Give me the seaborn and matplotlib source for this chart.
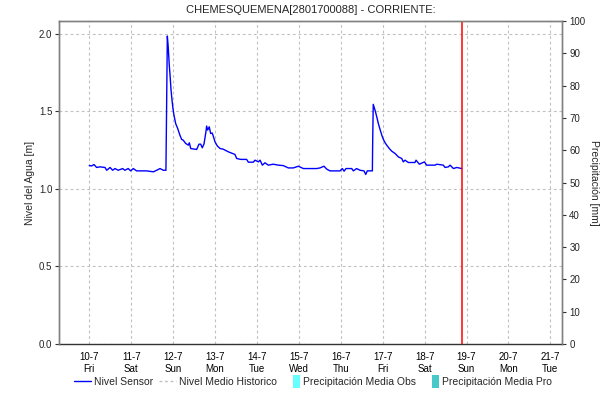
import matplotlib
matplotlib.use("Agg")
import matplotlib.pyplot as plt
import matplotlib.dates as mdates
from matplotlib.lines import Line2D
from matplotlib.patches import Patch, Rectangle
from matplotlib.legend_handler import HandlerPatch
import numpy as np
import pandas as pd
import seaborn as sns

# Nivel Sensor readings: hours after 10-7-2020 00:00 and level [m]
sensor_hours = [
    0, 1.4, 2.7, 4.2, 6.1, 9.0, 10.0, 11.9, 13.4, 14.7, 16.6, 19.1, 20.4, 22.3,
    23.7, 25.2, 27.1, 32.9, 36.7, 38.6, 40.5, 42.4, 43.9, 44.3, 44.7, 45.2,
    45.8, 46.4, 46.8, 47.4, 47.9, 48.5, 49.5, 50.6, 51.9, 52.9, 53.8, 55.2,
    56.7, 57.3, 58.1, 61.5, 62.8, 63.8, 64.7, 65.7, 66.8, 67.2, 67.8, 68.7,
    69.5, 70.4, 71.0, 72.0, 73.3, 74.9, 76.7, 79.6, 83.4, 84.4, 86.7, 90.1,
    91.1, 93.9, 94.9, 96.8, 97.8, 99.1, 100.6, 102.5, 105.4, 108.2, 111.1,
    114.0, 116.8, 119.7, 122.6, 126.4, 130.2, 132.1, 134.4, 136.0, 137.8,
    143.6, 144.9, 145.9, 147.0, 150.3, 151.2, 153.1, 155.0, 157.3, 158.3,
    159.2, 162.1, 162.3, 162.6, 163.6, 164.6, 165.5, 166.5, 167.5, 168.4,
    169.4, 170.3, 171.8, 173.2, 175.1, 177.0, 178.9, 179.8, 180.8, 182.7,
    186.5, 187.1, 189.0, 191.9, 193.2, 198.0, 199.0, 202.7, 203.7, 205.6,
    206.6, 208.5, 210.4, 213.3,
]
sensor_level = [
    1.150, 1.148, 1.157, 1.138, 1.142, 1.138, 1.120, 1.138, 1.120, 1.131,
    1.120, 1.131, 1.120, 1.131, 1.116, 1.131, 1.116, 1.116, 1.110, 1.120,
    1.131, 1.120, 1.120, 1.545, 1.985, 1.916, 1.800, 1.710, 1.640, 1.570,
    1.520, 1.475, 1.420, 1.390, 1.346, 1.319, 1.314, 1.293, 1.282, 1.297,
    1.260, 1.254, 1.288, 1.288, 1.265, 1.290, 1.368, 1.405, 1.379, 1.400,
    1.357, 1.360, 1.340, 1.303, 1.277, 1.260, 1.256, 1.239, 1.222, 1.196,
    1.190, 1.190, 1.172, 1.172, 1.185, 1.174, 1.185, 1.153, 1.168, 1.153,
    1.159, 1.153, 1.150, 1.135, 1.135, 1.146, 1.131, 1.131, 1.131, 1.135,
    1.146, 1.127, 1.116, 1.116, 1.131, 1.114, 1.131, 1.131, 1.116, 1.131,
    1.120, 1.116, 1.093, 1.116, 1.116, 1.325, 1.545, 1.508, 1.465, 1.422,
    1.383, 1.346, 1.319, 1.297, 1.282, 1.260, 1.243, 1.228, 1.206, 1.196,
    1.174, 1.185, 1.170, 1.170, 1.185, 1.159, 1.174, 1.153, 1.153, 1.159,
    1.153, 1.138, 1.142, 1.153, 1.131, 1.138, 1.131,
]

start = pd.Timestamp("2020-07-10")
now_time = pd.Timestamp("2020-07-18 21:36")
x_min = pd.Timestamp("2020-07-09 06:50")
x_max = pd.Timestamp("2020-07-21 06:50")

title = "CHEMESQUEMENA[2801700088] - CORRIENTE:"
legend_labels = ["Nivel Sensor", "Nivel Medio Historico",
                 "Precipitación Media Obs", "Precipitación Media Pro"]

df = pd.DataFrame({
    "fecha": start + pd.to_timedelta(sensor_hours, unit="h"),
    "nivel": sensor_level,
})

sns.set_theme(style="white")
plt.rcParams["font.family"] = ["Liberation Sans", "DejaVu Sans"]

fig = plt.figure(figsize=(6.08, 4.01), dpi=100)
ax = fig.add_axes([0.0975, 0.1421, 0.8273, 0.8055])
ax2 = ax.twinx()

sns.lineplot(data=df, x="fecha", y="nivel", ax=ax, color="#0000ff",
             linewidth=1.0, zorder=3)
ax.axvline(now_time, color="#ff0000", linewidth=1.1, zorder=4)

ax.set_xlim(x_min, x_max)
ax.set_ylim(0, 2.082)
ax.set_yticks([0.0, 0.5, 1.0, 1.5, 2.0])
ax.set_yticklabels(["0.0", "0.5", "1.0", "1.5", "2.0"])
ax2.set_ylim(0, 100)
ax2.set_yticks(range(0, 101, 10))

ax.xaxis.set_major_locator(mdates.DayLocator())
ax.xaxis.set_major_formatter(plt.FuncFormatter(
    lambda v, p: "{d.day}-{d.month}\n{d:%a}".format(d=mdates.num2date(v))))

grid_kw = dict(color="#c0c0c0", linestyle=(0, (2.5, 2.5)), linewidth=0.8)
ax.grid(True, axis="both", **grid_kw)
ax.set_axisbelow(True)

ax.set_xlabel("")
ax.set_ylabel("Nivel del Agua [m]", fontsize=7.5, labelpad=3)
ax2.set_ylabel("Precipitación [mm]", fontsize=7.5, rotation=270, labelpad=10)
ax.set_title(title, fontsize=8, pad=6)

for a in (ax, ax2):
    for s in a.spines.values():
        s.set_color("#808080")
        s.set_linewidth(1.0)
ax.spines["bottom"].set_color("#333333")
ax.spines["bottom"].set_linestyle((0, (1, 1)))
ax2.spines["bottom"].set_visible(False)

ax.tick_params(axis="x", length=0, labelsize=7, pad=6, colors="black")
ax.tick_params(axis="y", left=True, length=3, width=0.8, color="#333333",
               labelsize=7, pad=2)
ax2.tick_params(axis="y", right=True, length=3, width=0.8, color="#333333",
                labelsize=7, pad=2)


def narrow_patch(legend, orig_handle, xdescent, ydescent, width, height, fontsize):
    # small upright box like the original legend swatches
    w = height * 0.75
    return Rectangle((width - w - xdescent, -ydescent - 1.5), w, height + 3)


handles = [
    Line2D([], [], color="#0000ff", linewidth=1.0),
    Line2D([], [], color="#c0c0c0", linestyle=(0, (2, 2)), linewidth=1.0),
    Patch(facecolor="#66ffff", edgecolor="none"),
    Patch(facecolor="#48c8c8", edgecolor="none"),
]
fig.legend(handles, legend_labels, loc="center", bbox_to_anchor=(0.515, 0.047),
           ncol=4, frameon=False, fontsize=7.5, handlelength=1.6,
           handletextpad=0.3, columnspacing=0.6, handleheight=1.0,
           handler_map={Patch: HandlerPatch(patch_func=narrow_patch)})

fig.savefig("out.png", dpi=100)
